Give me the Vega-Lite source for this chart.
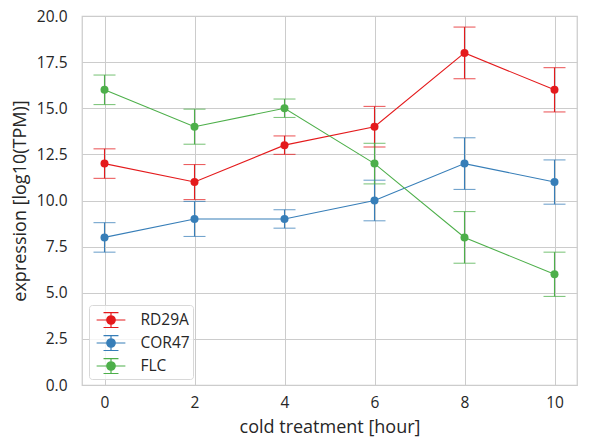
{
  "$schema": "https://vega.github.io/schema/vega-lite/v6.json",
  "width": 495,
  "height": 369,
  "autosize": {"type": "none"},
  "padding": {"left": 82, "top": 16, "right": 15, "bottom": 62},
  "background": "white",
  "config": {
    "font": "Open Sans",
    "view": {"stroke": "#cccccc", "strokeWidth": 1.25},
    "axis": {
      "domain": false,
      "ticks": false,
      "gridColor": "#cccccc",
      "gridWidth": 1,
      "labelColor": "#262626",
      "titleColor": "#262626",
      "labelFontSize": 15.5,
      "titleFontSize": 18,
      "titleFontWeight": "normal"
    }
  },
  "data": {
    "values": [
      {"gene": "RD29A", "hour": 0, "value": 12, "lo": 11.2, "hi": 12.8},
      {"gene": "RD29A", "hour": 2, "value": 11, "lo": 10.05, "hi": 11.95},
      {"gene": "RD29A", "hour": 4, "value": 13, "lo": 12.5, "hi": 13.5},
      {"gene": "RD29A", "hour": 6, "value": 14, "lo": 12.9, "hi": 15.1},
      {"gene": "RD29A", "hour": 8, "value": 18, "lo": 16.6, "hi": 19.4},
      {"gene": "RD29A", "hour": 10, "value": 16, "lo": 14.8, "hi": 17.2},
      {"gene": "COR47", "hour": 0, "value": 8, "lo": 7.2, "hi": 8.8},
      {"gene": "COR47", "hour": 2, "value": 9, "lo": 8.05, "hi": 9.95},
      {"gene": "COR47", "hour": 4, "value": 9, "lo": 8.5, "hi": 9.5},
      {"gene": "COR47", "hour": 6, "value": 10, "lo": 8.9, "hi": 11.1},
      {"gene": "COR47", "hour": 8, "value": 12, "lo": 10.6, "hi": 13.4},
      {"gene": "COR47", "hour": 10, "value": 11, "lo": 9.8, "hi": 12.2},
      {"gene": "FLC", "hour": 0, "value": 16, "lo": 15.2, "hi": 16.8},
      {"gene": "FLC", "hour": 2, "value": 14, "lo": 13.05, "hi": 14.95},
      {"gene": "FLC", "hour": 4, "value": 15, "lo": 14.5, "hi": 15.5},
      {"gene": "FLC", "hour": 6, "value": 12, "lo": 10.9, "hi": 13.1},
      {"gene": "FLC", "hour": 8, "value": 8, "lo": 6.6, "hi": 9.4},
      {"gene": "FLC", "hour": 10, "value": 6, "lo": 4.8, "hi": 7.2}
    ]
  },
  "encoding": {
    "x": {
      "field": "hour",
      "type": "quantitative",
      "scale": {"domain": [-0.5, 10.5], "nice": false, "zero": false},
      "axis": {"values": [0, 2, 4, 6, 8, 10], "title": "cold treatment [hour]", "titlePadding": 8, "labelPadding": 10}
    },
    "color": {
      "field": "gene",
      "type": "nominal",
      "scale": {"domain": ["RD29A", "COR47", "FLC"], "range": ["#e41a1c", "#377eb8", "#4daf4a"]},
      "legend": {
        "title": null,
        "orient": "bottom-left",
        "offset": 6.5,
        "padding": 2.5,
        "symbolOffset": 7,
        "fillColor": "rgba(255,255,255,0.8)",
        "strokeColor": "#d8d8d8",
        "cornerRadius": 3,
        "labelFontSize": 15.5,
        "labelColor": "#262626",
        "labelOffset": 17,
        "rowPadding": 0,
        "symbolType": "M-1.25,0H1.25M0,-0.65V0.65M-0.65,-0.65H0.65M-0.65,0.65H0.65M0.37,0A0.37,0.37,0,1,1,-0.37,0A0.37,0.37,0,1,1,0.37,0Z",
        "symbolSize": 529,
        "symbolStrokeWidth": 1.2,
        "symbolOpacity": 1
      }
    }
  },
  "layer": [
    {
      "mark": {"type": "line", "strokeWidth": 1.1},
      "encoding": {
        "y": {
          "field": "value",
          "type": "quantitative",
          "scale": {"domain": [0, 20], "nice": false},
          "axis": {"values": [0, 2.5, 5, 7.5, 10, 12.5, 15, 17.5, 20], "format": ".1f", "title": "expression [log10(TPM)]", "titlePadding": 7, "labelPadding": 15}
        }
      }
    },
    {
      "mark": {"type": "rule", "strokeWidth": 1.1},
      "encoding": {"y": {"field": "lo", "type": "quantitative"}, "y2": {"field": "hi"}}
    },
    {
      "mark": {"type": "tick", "orient": "horizontal", "size": 22, "thickness": 1.1},
      "encoding": {"y": {"field": "lo", "type": "quantitative"}}
    },
    {
      "mark": {"type": "tick", "orient": "horizontal", "size": 22, "thickness": 1.1},
      "encoding": {"y": {"field": "hi", "type": "quantitative"}}
    },
    {
      "mark": {"type": "point", "filled": true, "opacity": 1, "size": 64},
      "encoding": {"y": {"field": "value", "type": "quantitative"}}
    }
  ]
}
